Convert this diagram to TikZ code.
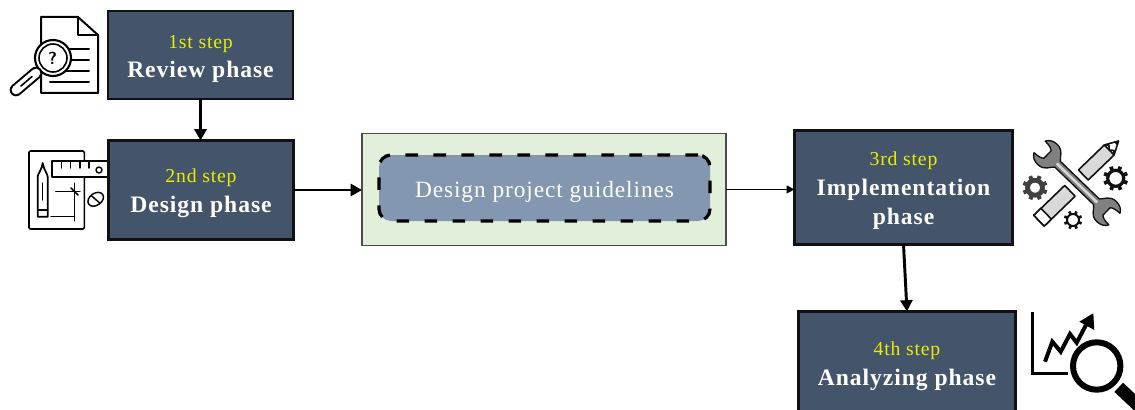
\documentclass[tikz,border=0pt]{standalone}
\usepackage{fontspec}
\setmainfont{Liberation Serif}
\newfontfamily\spaced[LetterSpace=4]{Liberation Serif}
\usetikzlibrary{arrows.meta,calc}
\definecolor{slate}{HTML}{44546A}
\definecolor{stepyellow}{HTML}{E8F000}
\definecolor{pale}{HTML}{E2EFDA}
\definecolor{steel}{HTML}{8497B0}
\definecolor{ink}{HTML}{111111}
\tikzset{
  x=0.75pt,y=-0.75pt,
  phasebox/.style={draw=ink,fill=slate,line width=0.9pt,outer sep=0pt,text=white,align=center,inner sep=0pt,anchor=north west,font=\fontsize{17.7}{22.2}\selectfont\spaced\bfseries},
  heavy/.style={line width=2.4pt},
  link/.style={draw=black,line width=2.2pt,-{Triangle[length=8.5pt,width=9pt]}},
  thinlink/.style={draw=black,line width=1pt,-{Triangle[length=6pt,width=6pt]}},
  iconline/.style={draw=black,line width=1.1pt,line join=round,line cap=round},
  tool/.style={draw=ink,fill=black!15,line width=1.2pt,line join=round},
}
\newcommand{\stepline}[1]{\rule{0pt}{15.5pt}{\fontsize{14.8}{22.2}\selectfont\color{stepyellow}\mdseries #1}}
\newcommand{\geardraw}[7]{% cx cy ring-radius ring-width tooth-outer tooth-width colour
  \draw[draw=#7,line width=#4] (#1,#2) circle[radius=#3];
  \foreach \ang in {0,45,...,315}{\draw[draw=#7,line width=#6] ($(#1,#2)+(\ang+22:#3)$) -- ($(#1,#2)+(\ang+22:#5)$);}
}
\begin{document}
\begin{tikzpicture}
\clip (0,0) rectangle (1135,410);
\fill[white] (0,0) rectangle (1135,410);
% document icon
\draw[iconline,line width=1.5pt] (41,17) -- (78,17) -- (98,35) -- (98,93) -- (41,93) -- cycle;
\draw[iconline,line width=1.5pt] (78,17) -- (78,35) -- (98,35);
\foreach \ya/\xa in {49/66,60/66,71/66,82/50}{\draw[iconline,line width=1.5pt] (\xa,\ya) -- (89,\ya);}
\fill[white] (53,58) circle[radius=18.5];
\draw[iconline,line width=1.6pt] (53,58) circle[radius=18];
\draw[iconline,line width=1.2pt] (53,58) circle[radius=14];
\node[font=\fontsize{13}{13}\selectfont\bfseries\sffamily,inner sep=0pt] (qmark) at (52.5,58) {?};
\draw[line width=9.5pt,line cap=round] (36,73) -- (16,90);
\draw[line width=6.5pt,white,line cap=round] (36,73) -- (16,90);
\draw[line width=1.2pt,line cap=round] (32,76.5) -- (21,86);
% drafting icon
\draw[iconline,line width=1.2pt,rounded corners=1pt] (84.3,161) -- (84.3,151) -- (29,151) -- (29,229) -- (84.3,229) -- (84.3,177);
\draw[iconline,fill=white,line width=1.3pt] (52.3,161) rectangle (112,177.3);
\foreach \tx in {61.7,70.7,80,89}{\draw[iconline] (\tx,161) -- (\tx,168);}
\draw[iconline] (99,170) circle[radius=3];
\draw[iconline,line width=1.3pt] (37.7,216.7) -- (37.7,176.7) .. controls (38,173) and (41,172) .. (42.7,163) .. controls (44.4,172) and (47.4,173) .. (47.7,176.7) -- (47.7,216.7) -- cycle;
\draw[iconline] (42.7,183) -- (42.7,200) (37.7,210) -- (47.7,210);
\draw[iconline] (55.7,191.7) -- (80,191.7) (74.3,183.3) -- (74.3,221) (51,216.7) -- (74.3,216.7);
\draw[iconline] (71,188) -- (78,195);
\draw[iconline,rotate around={35:(95.7,199.3)}] (95.7,199.3) ellipse[x radius=8.5,y radius=6];
\draw[iconline] (91.7,196) -- (99.7,203);
% boxes
\node[phasebox,minimum width=185*0.75pt,minimum height=88*0.75pt] (b1) at (108,11) {\stepline{1st step}\\Review phase};
\node[phasebox,heavy,minimum width=185*0.75pt,minimum height=99*0.75pt] (b2) at (108.5,140.5) {\stepline{2nd step}\\Design phase};
\node[draw=black!70,fill=pale,line width=0.9pt,outer sep=0pt,minimum width=364*0.75pt,minimum height=111.5*0.75pt,anchor=north west] (g) at (362,133.7) {};
\node[draw=black,fill=steel,line width=2.4pt,dash pattern=on 9.5pt off 11.5pt,outer sep=0pt,rounded corners=9pt,minimum width=331*0.75pt,minimum height=66*0.75pt,anchor=north west,text=white,font=\fontsize{17.5}{18}\selectfont\spaced] (d) at (379,155) {\rule{0pt}{18pt}Design project guidelines};
\node[phasebox,heavy,minimum width=218*0.75pt,minimum height=114*0.75pt] (b3) at (794.5,130.5) {\stepline{3rd step}\\Implementation\\phase};
\node[phasebox,heavy,minimum width=217*0.75pt,minimum height=103*0.75pt] (b4) at (798.5,311.5) {\stepline{4th step}\\Analyzing phase};
% connectors
\draw[link] (b1.south) -- (b1.south |- b2.north);
\draw[link] (b2.east) -- (b2.east -| g.west);
\draw[thinlink] (g.east) -- (g.east -| b3.west);
\draw[link] (b3.south) -- (b4.north);
% tools icon: wrench
\begin{scope}[shift={(1077,183)},rotate=-44]
  \draw[draw=ink,fill=black!50,line width=1pt,line join=round]
    (-27,-4) -- (27,-4)
    .. controls (31,-7) and (32,-14) .. (41,-14)
    .. controls (46,-14) and (50,-12) .. (52,-8)
    .. controls (47,-8) and (42,-7) .. (41,-5)
    -- (41,5)
    .. controls (42,7) and (47,8) .. (52,8)
    .. controls (50,12) and (46,14) .. (41,14)
    .. controls (32,14) and (31,7) .. (27,4)
    -- (-27,4)
    .. controls (-31,7) and (-32,14) .. (-41,14)
    .. controls (-46,14) and (-50,12) .. (-52,8)
    .. controls (-47,8) and (-42,7) .. (-41,5)
    -- (-41,-5)
    .. controls (-42,-7) and (-47,-8) .. (-52,-8)
    .. controls (-50,-12) and (-46,-14) .. (-41,-14)
    .. controls (-32,-14) and (-31,-7) .. (-27,-4)
    -- cycle;
  \draw[line width=1.8pt,black!15] (-28,0) -- (28,0);
\end{scope}
% marker
\begin{scope}[shift={(1039,220.7)},rotate=44]
  \draw[tool] (0,-7.5) rectangle (43,7.5);
  \draw[tool,fill=white] (0,-7.5) rectangle (10,7.5);
\end{scope}
% pencil
\begin{scope}[shift={(1083.3,175)},rotate=44]
  \draw[tool] (0,-7) rectangle (36,7);
  \draw[tool,fill=white] (36,-7) -- (49,0) -- (36,7) -- (39,3.5) -- (36,0) -- (39,-3.5) -- cycle;
  \fill[ink] (45,-2) -- (49,0) -- (45,2) -- cycle;
\end{scope}
\geardraw{1035}{187.7}{7.5}{3.6pt}{12.5}{3pt}{black!75}
\geardraw{1115.7}{178.3}{8}{2.4pt}{12.5}{2.8pt}{ink}
\geardraw{1073}{220}{6}{1.5pt}{9.3}{2pt}{ink}
% analysis icon
\draw[line width=2.2pt,line join=miter] (1032.3,311.7) -- (1032.3,373.5) -- (1068.3,373.5);
\draw[line width=3pt,line join=miter] (1045,361.7) -- (1052.3,341.7) -- (1060.7,351.7) -- (1070,334) -- (1076.7,342.7) -- (1087,323);
\fill (1093.3,313.3) -- (1079.3,321.7) -- (1094.3,330) -- cycle;
\draw[line width=4.5pt,fill=white] (1096.7,366) circle[radius=23.7];
\draw[line width=9.5pt] (1118.7,387.3) -- (1145,412);
\end{tikzpicture}
\end{document}
